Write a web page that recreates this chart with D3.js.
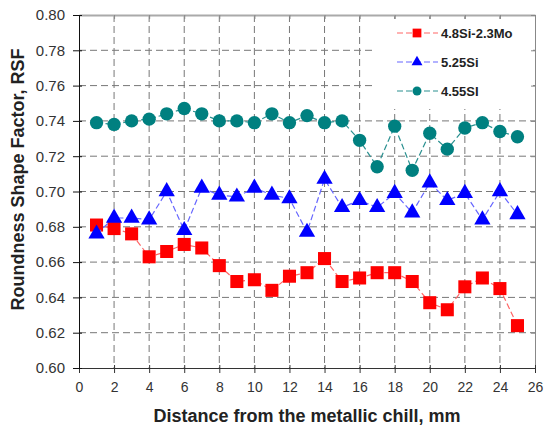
<!DOCTYPE html>
<html>
<head>
<meta charset="utf-8">
<script src="https://cdn.jsdelivr.net/npm/d3@7"></script>
<style>
  body { margin: 0; background: #fff; }
  svg { display: block; }
</style>
</head>
<body>
<script>
// distance from chill, mm
var distance = [1, 2, 3, 4, 5, 6, 7, 8, 9, 10, 11, 12, 13, 14, 15, 16, 17, 18, 19, 20, 21, 22, 23, 24, 25];

var siMo = [0.681, 0.679, 0.676, 0.663, 0.666, 0.670, 0.668, 0.658, 0.649, 0.650, 0.644, 0.652, 0.654,
    0.662, 0.649, 0.651, 0.654, 0.654, 0.649, 0.637, 0.633, 0.646, 0.651, 0.645, 0.624];
var si525 = [0.676, 0.685, 0.685, 0.684, 0.700, 0.678, 0.702, 0.698, 0.697, 0.702, 0.698, 0.696, 0.677,
    0.707, 0.691, 0.695, 0.691, 0.699, 0.688, 0.705, 0.695, 0.699, 0.684, 0.700, 0.687];
var si455 = [0.739, 0.738, 0.740, 0.741, 0.744, 0.747, 0.744, 0.740, 0.740, 0.739, 0.744, 0.739, 0.743,
    0.739, 0.740, 0.729, 0.714, 0.737, 0.712, 0.733, 0.724, 0.736, 0.739, 0.734, 0.731];

var seriesNames = ["4.8Si-2.3Mo", "5.25Si", "4.55SI"];

var xTicks = d3.range(0, 27, 2);
var yTicks = d3.range(0.60, 0.8001, 0.02);

var margin = { top: 15, right: 9, bottom: 61, left: 79 },
    width = 544 - margin.left - margin.right,
    height = 429 - margin.top - margin.bottom;

var font = "Liberation Sans, Arial, sans-serif";

var svg = d3.select("body")
    .append("svg")
    .attr("width", 544)
    .attr("height", 429)
    .append("g")
    .attr("transform", "translate(" + margin.left + "," + margin.top + ")");

var x = d3.scaleLinear().domain([0, 26]).range([0, width]);
var y = d3.scaleLinear().domain([0.6, 0.8]).range([height, 0]);

// grid
svg.append("g")
    .selectAll("line")
    .data(xTicks.slice(1, -1))
    .enter().append("line")
    .attr("x1", d => x(d)).attr("x2", d => x(d))
    .attr("y1", 0).attr("y2", height)
    .attr("stroke", "#777")
    .attr("stroke-dasharray", "7,4");

svg.append("g")
    .selectAll("line")
    .data(yTicks.slice(1, -1))
    .enter().append("line")
    .attr("x1", 0).attr("x2", width)
    .attr("y1", d => y(d)).attr("y2", d => y(d))
    .attr("stroke", "#777")
    .attr("stroke-dasharray", "7,4");

// white legend background covers the grid
var legX = 296, legY = 4;
svg.append("rect")
    .attr("x", legX).attr("y", legY)
    .attr("width", 158).attr("height", 90)
    .attr("fill", "#fff");

// top and right frame with small inner ticks
svg.append("g")
    .call(d3.axisTop(x).tickValues(xTicks).tickSize(-4).tickSizeOuter(0).tickFormat(""))
    .call(g => g.selectAll("line").attr("stroke", "#888"))
    .call(g => g.select("path").attr("stroke", "#aaa").attr("stroke-width", 2));
svg.append("g")
    .attr("transform", "translate(" + width + ",0)")
    .call(d3.axisRight(y).tickValues(yTicks).tickSize(-4).tickSizeOuter(0).tickFormat(""))
    .call(g => g.selectAll("path, line").attr("stroke", "#888"));

// axes
svg.append("g")
    .attr("transform", "translate(0," + height + ")")
    .call(d3.axisBottom(x).tickValues(xTicks).tickSize(5).tickPadding(9).tickSizeOuter(0))
    .call(g => g.selectAll("line").attr("y1", -3))
    .call(g => g.selectAll("path, line").attr("stroke", "#333"))
    .call(g => g.selectAll("text").style("font-size", "14px"));
svg.append("g")
    .call(d3.axisLeft(y).tickValues(yTicks).tickSize(6).tickPadding(8).tickSizeOuter(0).tickFormat(d3.format(".2f")))
    .call(g => g.selectAll("line").attr("x1", 3))
    .call(g => g.selectAll("path, line").attr("stroke", "#111"))
    .call(g => g.selectAll("text").style("font-size", "15px"));

svg.selectAll(".tick text")
    .style("font-family", font)
    .attr("fill", "#333");

var series = [
    { name: seriesNames[0], values: siMo, color: "#ff0000", line: "#ff6666", shape: d3.symbolSquare, size: 170 },
    { name: seriesNames[1], values: si525, color: "#0000ff", line: "#6666ff", shape: d3.symbolTriangle, size: 115 },
    { name: seriesNames[2], values: si455, color: "#008080", line: "#2a9090", shape: d3.symbolCircle, size: 140 }
];

var line = d3.line()
    .x((d, i) => x(distance[i]))
    .y(d => y(d));

series.forEach(function (s) {
    svg.append("path")
        .datum(s.values)
        .attr("d", line)
        .attr("fill", "none")
        .attr("stroke", s.line)
        .attr("stroke-width", 1.2)
        .attr("stroke-dasharray", "6,3");

    svg.append("g")
        .selectAll("path")
        .data(s.values)
        .enter().append("path")
        .attr("d", d3.symbol().type(s.shape).size(s.size))
        .attr("transform", (d, i) => "translate(" + x(distance[i]) + "," + y(d) + ")")
        .attr("fill", s.color);
});

// legend
series.forEach(function (s, i) {
    var ly = legY + 14 + i * 29;
    svg.append("line")
        .attr("x1", legX + 22).attr("x2", legX + 63)
        .attr("y1", ly).attr("y2", ly)
        .attr("stroke", s.line)
        .attr("stroke-width", 1.2)
        .attr("stroke-dasharray", "6,3");
    svg.append("path")
        .attr("d", d3.symbol().type(s.shape).size(s.size * 0.45))
        .attr("transform", "translate(" + (legX + 42) + "," + ly + ")")
        .attr("fill", s.color);
    svg.append("text")
        .attr("x", legX + 66)
        .attr("y", ly + 5)
        .style("font-family", font)
        .style("font-size", "13px")
        .style("font-weight", "bold")
        .attr("fill", "#222")
        .text(s.name);
});

// X label
svg.append("text")
    .attr("x", width / 2)
    .attr("y", height + 54)
    .attr("text-anchor", "middle")
    .style("font-family", font)
    .style("font-size", "18px")
    .style("font-weight", "bold")
    .attr("fill", "#222")
    .text("Distance from the metallic chill, mm");

// Y label
svg.append("text")
    .attr("text-anchor", "middle")
    .attr("transform", "translate(-55," + (height / 2 - 12) + ")rotate(-90)")
    .style("font-family", font)
    .style("font-size", "18px")
    .style("font-weight", "bold")
    .attr("fill", "#222")
    .text("Roundness Shape Factor, RSF");
</script>
</body>
</html>
